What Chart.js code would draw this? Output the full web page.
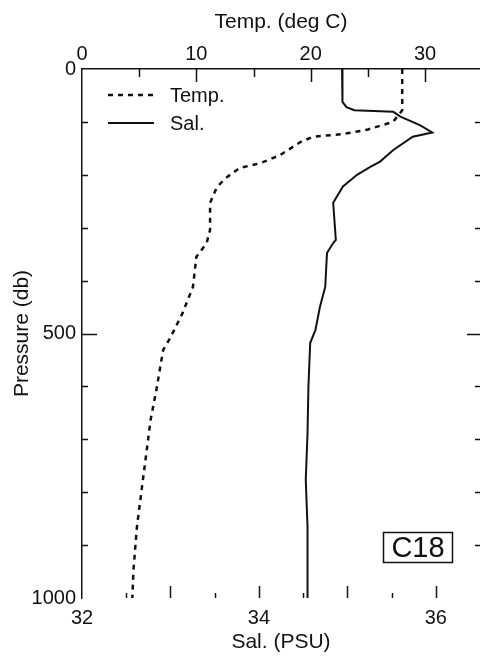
<!DOCTYPE html>
<html>
<head>
<meta charset="utf-8">
<title>C18 profile</title>
<script src="https://cdn.jsdelivr.net/npm/chart.js@4.4.1/dist/chart.umd.min.js"></script>
<style>
    html, body { margin: 0; padding: 0; background: #fff; overflow: hidden; }
    #wrap { width: 480px; height: 658px; }
</style>
</head>
<body>
<div id="wrap"><canvas id="profileChart" width="480" height="658"></canvas></div>
<script>
// Station C18 - temperature and salinity against pressure (db)
const tempPressure = [0, 78, 100, 115, 123, 128, 138, 163, 178, 187, 204, 223, 253, 304, 329, 355, 412, 461, 509, 531, 569, 607, 663, 714, 764, 815, 866, 947, 1000];
const tempValues = [28.0, 28.0, 27.2, 24.9, 22.8, 20.2, 19.1, 17.3, 15.6, 13.8, 12.7, 11.8, 11.2, 11.2, 10.9, 10.0, 9.7, 8.8, 7.7, 7.1, 6.8, 6.5, 6.0, 5.7, 5.4, 5.1, 4.8, 4.5, 4.4];

const salPressure = [0, 45, 62, 72, 78, 81, 90, 106, 120, 128, 153, 175, 185, 200, 222, 253, 323, 329, 348, 412, 450, 493, 518, 601, 688, 777, 866, 1000];
const salValues = [34.94, 34.94, 34.95, 34.99, 35.08, 35.52, 35.60, 35.82, 35.96, 35.74, 35.52, 35.37, 35.26, 35.11, 34.95, 34.84, 34.87, 34.84, 34.77, 34.75, 34.69, 34.64, 34.58, 34.56, 34.55, 34.53, 34.55, 34.55];

const tempTicks = [0, 10, 20, 30];
const salTicks = [32, 34, 36];
const pressureTicks = [0, 500, 1000];

const FONT = "'Liberation Sans', Arial, sans-serif";
const INK = '#111';

function toPoints(xs, ys) {
    return xs.map((v, i) => ({ x: v, y: ys[i] }));
}

// tick marks drawn on the inside of the frame, legend and station label
const frameExtras = {
    id: 'frameExtras',
    afterDraw(chart) {
        const ctx = chart.ctx;
        const area = chart.chartArea;
        const xt = chart.scales.xTemp;
        const xs = chart.scales.xSal;
        const y = chart.scales.y;

        ctx.save();
        ctx.strokeStyle = INK;
        ctx.lineWidth = 1.5;
        ctx.beginPath();

        // top (temperature) ticks
        for (let v = 5; v < xt.max; v += 5) {
            const px = Math.round(xt.getPixelForValue(v)) + 0.5;
            const len = v % 10 === 0 ? 13 : 8;
            ctx.moveTo(px, area.top);
            ctx.lineTo(px, area.top + len);
        }
        // bottom (salinity) ticks
        for (let v = 32.5; v < xs.max; v += 0.5) {
            const px = Math.round(xs.getPixelForValue(v)) + 0.5;
            const len = v % 1 === 0 ? 12 : 5;
            ctx.moveTo(px, area.bottom);
            ctx.lineTo(px, area.bottom - len);
        }
        // left and right pressure ticks
        for (let p = 100; p < 1000; p += 100) {
            const py = Math.round(y.getPixelForValue(p)) + 0.5;
            const len = p === 500 ? 15 : 6;
            ctx.moveTo(area.left, py);
            ctx.lineTo(area.left + len, py);
            ctx.moveTo(area.right, py);
            ctx.lineTo(area.right - (p === 500 ? 13 : 5), py);
        }
        ctx.stroke();

        // legend
        const items = chart.data.datasets;
        ctx.font = '20px ' + FONT;
        ctx.fillStyle = INK;
        ctx.textBaseline = 'middle';
        items.forEach((ds, i) => {
            const ly = 95 + i * 28;
            ctx.beginPath();
            ctx.lineWidth = ds.borderWidth;
            ctx.setLineDash(ds.borderDash || []);
            ctx.moveTo(108, ly);
            ctx.lineTo(154, ly);
            ctx.stroke();
            ctx.setLineDash([]);
            ctx.fillText(ds.label, 170, ly + 1);
        });

        // station label
        ctx.lineWidth = 1.5;
        ctx.strokeRect(383.5, 532.5, 69, 30);
        ctx.font = '29px ' + FONT;
        ctx.textAlign = 'center';
        ctx.fillText('C18', 418, 549);
        ctx.restore();
    }
};

const ctx = document.getElementById('profileChart');

new Chart(ctx, {
    type: 'scatter',
    data: {
        datasets: [
            {
                label: 'Temp.',
                data: toPoints(tempValues, tempPressure),
                xAxisID: 'xTemp',
                showLine: true,
                borderColor: INK,
                borderWidth: 2.5,
                borderDash: [5, 5],
                pointRadius: 0,
                tension: 0
            },
            {
                label: 'Sal.',
                data: toPoints(salValues, salPressure),
                xAxisID: 'xSal',
                showLine: true,
                borderColor: INK,
                borderWidth: 2,
                pointRadius: 0,
                tension: 0
            }
        ]
    },
    options: {
        responsive: false,
        animation: false,
        layout: { padding: 0 },
        scales: {
            xTemp: {
                type: 'linear',
                position: 'top',
                min: 0,
                max: 34.8,
                afterBuildTicks: scale => { scale.ticks = tempTicks.map(v => ({ value: v })); },
                afterFit: scale => { scale.height = 69; },
                grid: { drawOnChartArea: false, drawTicks: false },
                border: { display: true, color: INK, width: 1.5 },
                ticks: { color: INK, padding: 3, maxRotation: 0, callback: v => String(v), font: { family: FONT, size: 20 } },
                title: {
                    display: true,
                    text: 'Temp. (deg C)',
                    color: INK,
                    padding: { top: 10, bottom: 0 },
                    font: { family: FONT, size: 21 }
                }
            },
            xSal: {
                type: 'linear',
                position: 'bottom',
                min: 32,
                max: 36.5,
                afterBuildTicks: scale => { scale.ticks = salTicks.map(v => ({ value: v })); },
                afterFit: scale => { scale.height = 60; },
                grid: { drawOnChartArea: false, drawTicks: false },
                border: { display: false },
                ticks: { color: INK, padding: 8, maxRotation: 0, callback: v => String(v), font: { family: FONT, size: 20 } },
                title: {
                    display: true,
                    text: 'Sal. (PSU)',
                    color: INK,
                    padding: { top: 0, bottom: 3 },
                    font: { family: FONT, size: 21 }
                }
            },
            y: {
                type: 'linear',
                position: 'left',
                reverse: true,
                min: 0,
                max: 1000,
                afterBuildTicks: scale => { scale.ticks = pressureTicks.map(v => ({ value: v })); },
                afterFit: scale => { scale.width = 82; },
                grid: { drawOnChartArea: false, drawTicks: false },
                border: { display: true, color: INK, width: 1.5 },
                ticks: { color: INK, padding: 6, callback: v => String(v), font: { family: FONT, size: 20 } },
                title: {
                    display: true,
                    text: 'Pressure (db)',
                    color: INK,
                    padding: { top: 10, bottom: 0 },
                    font: { family: FONT, size: 21 }
                }
            }
        },
        plugins: {
            legend: { display: false },
            tooltip: { enabled: false }
        }
    },
    plugins: [frameExtras]
});
</script>
</body>
</html>
